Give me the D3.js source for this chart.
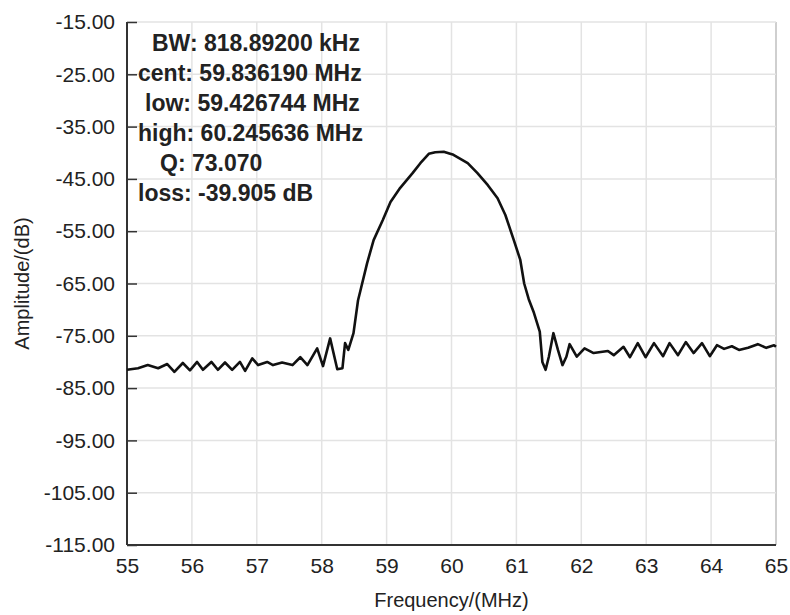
<!DOCTYPE html>
<html>
<head>
<meta charset="utf-8">
<script src="https://cdn.jsdelivr.net/npm/d3@7"></script>
<style>
  body { margin: 0; background: #fff; }
  text { font-family: "Liberation Sans", Arial, sans-serif; fill: #222; }
</style>
</head>
<body>
<script>
const svgWidth = 790,
    svgHeight = 615,
    margin = { top: 22, right: 14, bottom: 70, left: 127 },
    width = svgWidth - margin.left - margin.right,
    height = svgHeight - margin.top - margin.bottom;

const freq = [
    55.00, 55.17, 55.32, 55.48, 55.62, 55.73, 55.86, 55.97, 56.08, 56.17,
    56.30, 56.40, 56.51, 56.62, 56.74, 56.82, 56.93, 57.02, 57.16, 57.25,
    57.39, 57.55, 57.67, 57.78, 57.93, 58.02, 58.13, 58.24, 58.32, 58.36,
    58.41, 58.49, 58.56, 58.60, 58.70, 58.80, 58.94, 59.06, 59.21, 59.40,
    59.52, 59.65, 59.75, 59.88, 60.03, 60.25, 60.40, 60.56, 60.71, 60.83,
    60.96, 61.06, 61.12, 61.19, 61.27, 61.36, 61.40, 61.45, 61.50, 61.57,
    61.64, 61.71, 61.77, 61.82, 61.93, 62.05, 62.19, 62.41, 62.50, 62.65,
    62.75, 62.87, 62.99, 63.12, 63.26, 63.36, 63.49, 63.61, 63.73, 63.86,
    63.98, 64.09, 64.20, 64.32, 64.43, 64.57, 64.72, 64.85, 64.97, 65.00
];
const amplitude = [
    -81.5, -81.2, -80.6, -81.2, -80.4, -81.9, -80.2, -81.6, -80.0, -81.5,
    -80.0, -81.5, -80.1, -81.5, -80.0, -81.7, -79.3, -80.6, -80.0, -80.6,
    -80.1, -80.6, -79.1, -80.6, -77.4, -80.8, -75.5, -81.4, -81.2, -76.4,
    -77.7, -74.5, -68.2, -66.2, -61.1, -56.7, -52.9, -49.4, -46.7, -43.9,
    -42.0, -40.2, -39.9, -39.8, -40.4, -42.0, -43.9, -46.2, -48.7, -51.9,
    -56.7, -60.5, -65.0, -68.0, -70.6, -74.2, -80.0, -81.5, -79.0, -74.5,
    -77.7, -80.6, -79.0, -76.6, -79.0, -77.4, -78.3, -77.9, -78.7, -77.1,
    -79.1, -76.4, -79.1, -76.4, -78.9, -76.4, -78.7, -76.2, -78.3, -76.4,
    -78.9, -76.8, -77.5, -77.0, -77.7, -77.3, -76.6, -77.3, -76.8, -77.1
];

const xTicks = d3.range(55, 66, 1);
const yTicks = d3.range(-115, -14, 10);

const infoLines = [
    "BW: 818.89200 kHz",
    "cent: 59.836190 MHz",
    "low: 59.426744 MHz",
    "high: 60.245636 MHz",
    "Q: 73.070",
    "loss: -39.905 dB"
];
// left offsets of each info line (px from plot left)
const infoIndent = [25, 11, 18, 11, 33, 11];

const data = freq.map(function (f, i) { return { f: f, a: amplitude[i] }; });

var svg = d3.select("body").append("svg")
    .attr("width", svgWidth)
    .attr("height", svgHeight)
    .append("g")
    .attr("transform", "translate(" + margin.left + "," + margin.top + ")");

var x = d3.scaleLinear().domain([55, 65]).range([0, width]);
var y = d3.scaleLinear().domain([-115, -15]).range([height, 0]);

// plain hyphen instead of the unicode minus d3.format gives
var fmt2 = function (d) { return d3.format(".2f")(d).replace("\u2212", "-"); };

// grid
svg.append("g")
    .selectAll("line")
    .data(xTicks.slice(1))
    .enter().append("line")
    .attr("x1", d => x(d)).attr("x2", d => x(d))
    .attr("y1", 0).attr("y2", height)
    .attr("stroke", d => d === 65 ? "#cfcfcf" : "#e3e3e3")
    .attr("stroke-width", d => d === 65 ? 2 : 1.5);

svg.append("g")
    .selectAll("line")
    .data(yTicks.slice(1))
    .enter().append("line")
    .attr("x1", 0).attr("x2", width)
    .attr("y1", d => y(d)).attr("y2", d => y(d))
    .attr("stroke", "#e3e3e3")
    .attr("stroke-width", 1.5);

// y axis: ticks pointing inward
var yAxis = svg.append("g")
    .call(d3.axisRight(y).tickValues(yTicks).tickSize(10).tickFormat(fmt2));
yAxis.select(".domain").remove();
yAxis.selectAll(".tick line").attr("stroke", "#333").attr("stroke-width", 1.5);
yAxis.selectAll(".tick text")
    .attr("x", -12)
    .attr("text-anchor", "end")
    .attr("font-size", 21)
    .attr("font-family", "Liberation Sans, Arial, sans-serif")
    .attr("fill", "#222");

// x axis: labels only
var xAxis = svg.append("g")
    .attr("transform", "translate(0," + height + ")")
    .call(d3.axisBottom(x).tickValues(xTicks).tickSize(0).tickPadding(13).tickFormat(d3.format("d")));
xAxis.select(".domain").remove();
xAxis.selectAll(".tick text")
    .attr("font-size", 21)
    .attr("font-family", "Liberation Sans, Arial, sans-serif")
    .attr("fill", "#222");

// axis lines
svg.append("line")
    .attr("x1", 0).attr("x2", 0).attr("y1", 0).attr("y2", height)
    .attr("stroke", "#333").attr("stroke-width", 2);
svg.append("line")
    .attr("x1", 0).attr("x2", width).attr("y1", height).attr("y2", height)
    .attr("stroke", "#333").attr("stroke-width", 2);

// trace
svg.append("path")
    .datum(data)
    .attr("fill", "none")
    .attr("stroke", "#111")
    .attr("stroke-width", 2.6)
    .attr("stroke-linejoin", "round")
    .attr("d", d3.line().x(d => x(d.f)).y(d => y(d.a)));

// info block
svg.append("g")
    .selectAll("text")
    .data(infoLines)
    .enter().append("text")
    .attr("x", (d, i) => infoIndent[i])
    .attr("y", (d, i) => 29 + i * 30)
    .attr("font-size", 23)
    .attr("font-weight", "bold")
    .attr("fill", "#111")
    .text(d => d);

// axis titles
svg.append("text")
    .attr("x", width / 2)
    .attr("y", height + 62)
    .attr("text-anchor", "middle")
    .attr("font-size", 20)
    .text("Frequency/(MHz)");

svg.append("text")
    .attr("transform", "translate(" + (-98) + "," + (height / 2) + ") rotate(-90)")
    .attr("text-anchor", "middle")
    .attr("font-size", 20)
    .text("Amplitude/(dB)");
</script>
</body>
</html>
